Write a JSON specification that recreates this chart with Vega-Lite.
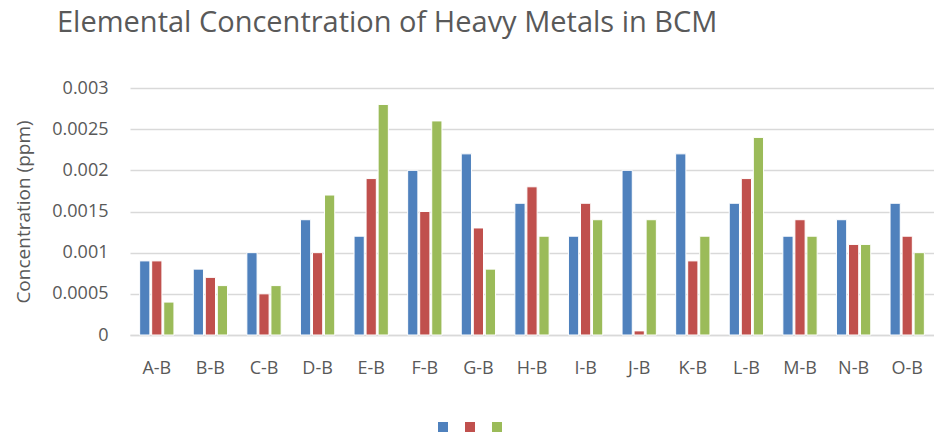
{
  "$schema": "https://vega.github.io/schema/vega-lite/v6.json",
  "width": 804,
  "height": 247,
  "autosize": {"type": "none"},
  "padding": {"left": 130, "top": 88, "right": 0, "bottom": 99},
  "background": "white",
  "title": {
    "text": "Elemental Concentration of Heavy Metals in BCM",
    "anchor": "start",
    "frame": "group",
    "font": "Open Sans",
    "fontSize": 29,
    "fontWeight": "normal",
    "color": "#595959",
    "offset": 41,
    "dx": -73
  },
  "data": {
    "values": [
      {"site": "A-B", "series": "S1", "value": 0.0009},
      {"site": "A-B", "series": "S2", "value": 0.0009},
      {"site": "A-B", "series": "S3", "value": 0.0004},
      {"site": "B-B", "series": "S1", "value": 0.0008},
      {"site": "B-B", "series": "S2", "value": 0.0007},
      {"site": "B-B", "series": "S3", "value": 0.0006},
      {"site": "C-B", "series": "S1", "value": 0.001},
      {"site": "C-B", "series": "S2", "value": 0.0005},
      {"site": "C-B", "series": "S3", "value": 0.0006},
      {"site": "D-B", "series": "S1", "value": 0.0014},
      {"site": "D-B", "series": "S2", "value": 0.001},
      {"site": "D-B", "series": "S3", "value": 0.0017},
      {"site": "E-B", "series": "S1", "value": 0.0012},
      {"site": "E-B", "series": "S2", "value": 0.0019},
      {"site": "E-B", "series": "S3", "value": 0.0028},
      {"site": "F-B", "series": "S1", "value": 0.002},
      {"site": "F-B", "series": "S2", "value": 0.0015},
      {"site": "F-B", "series": "S3", "value": 0.0026},
      {"site": "G-B", "series": "S1", "value": 0.0022},
      {"site": "G-B", "series": "S2", "value": 0.0013},
      {"site": "G-B", "series": "S3", "value": 0.0008},
      {"site": "H-B", "series": "S1", "value": 0.0016},
      {"site": "H-B", "series": "S2", "value": 0.0018},
      {"site": "H-B", "series": "S3", "value": 0.0012},
      {"site": "I-B", "series": "S1", "value": 0.0012},
      {"site": "I-B", "series": "S2", "value": 0.0016},
      {"site": "I-B", "series": "S3", "value": 0.0014},
      {"site": "J-B", "series": "S1", "value": 0.002},
      {"site": "J-B", "series": "S2", "value": 0.00005},
      {"site": "J-B", "series": "S3", "value": 0.0014},
      {"site": "K-B", "series": "S1", "value": 0.0022},
      {"site": "K-B", "series": "S2", "value": 0.0009},
      {"site": "K-B", "series": "S3", "value": 0.0012},
      {"site": "L-B", "series": "S1", "value": 0.0016},
      {"site": "L-B", "series": "S2", "value": 0.0019},
      {"site": "L-B", "series": "S3", "value": 0.0024},
      {"site": "M-B", "series": "S1", "value": 0.0012},
      {"site": "M-B", "series": "S2", "value": 0.0014},
      {"site": "M-B", "series": "S3", "value": 0.0012},
      {"site": "N-B", "series": "S1", "value": 0.0014},
      {"site": "N-B", "series": "S2", "value": 0.0011},
      {"site": "N-B", "series": "S3", "value": 0.0011},
      {"site": "O-B", "series": "S1", "value": 0.0016},
      {"site": "O-B", "series": "S2", "value": 0.0012},
      {"site": "O-B", "series": "S3", "value": 0.001}
    ]
  },
  "mark": {"type": "bar", "stroke": "white", "strokeWidth": 1},
  "encoding": {
    "x": {
      "field": "site",
      "type": "nominal",
      "sort": null,
      "scale": {"paddingInner": 0.36, "paddingOuter": 0.18},
      "axis": {
        "title": null,
        "labelAngle": 0,
        "labelFont": "Open Sans",
        "labelFontSize": 18,
        "labelColor": "#595959",
        "labelPadding": 24,
        "ticks": false,
        "domainColor": "#d9d9d9",
        "domainWidth": 1.5
      }
    },
    "xOffset": {"field": "series", "type": "nominal", "scale": {"paddingInner": 0.15}},
    "y": {
      "field": "value",
      "type": "quantitative",
      "scale": {"domain": [0, 0.003], "nice": false},
      "axis": {
        "title": "Concentration (ppm)",
        "titleFont": "Open Sans",
        "titleFontSize": 19,
        "titleFontWeight": "normal",
        "titleColor": "#595959",
        "titlePadding": 18,
        "values": [0, 0.0005, 0.001, 0.0015, 0.002, 0.0025, 0.003],
        "labelExpr": "datum.value == 0 ? '0' : format(datum.value, '.4~f')",
        "labelFont": "Open Sans",
        "labelFontSize": 18,
        "labelColor": "#595959",
        "labelPadding": 22,
        "ticks": false,
        "domain": false,
        "gridColor": "#d9d9d9",
        "gridWidth": 1.5
      }
    },
    "color": {
      "field": "series",
      "type": "nominal",
      "scale": {"domain": ["S1", "S2", "S3"], "range": ["#4F81BD", "#C0504D", "#9BBB59"]},
      "legend": {
        "title": null,
        "orient": "none",
        "direction": "horizontal",
        "legendX": 308,
        "legendY": 334,
        "padding": 0,
        "symbolType": "square",
        "symbolSize": 100,
        "symbolStrokeWidth": 0,
        "labelExpr": "''",
        "labelOffset": 0,
        "labelFontSize": 10,
        "columnPadding": 17
      }
    }
  },
  "config": {"view": {"stroke": null}}
}
